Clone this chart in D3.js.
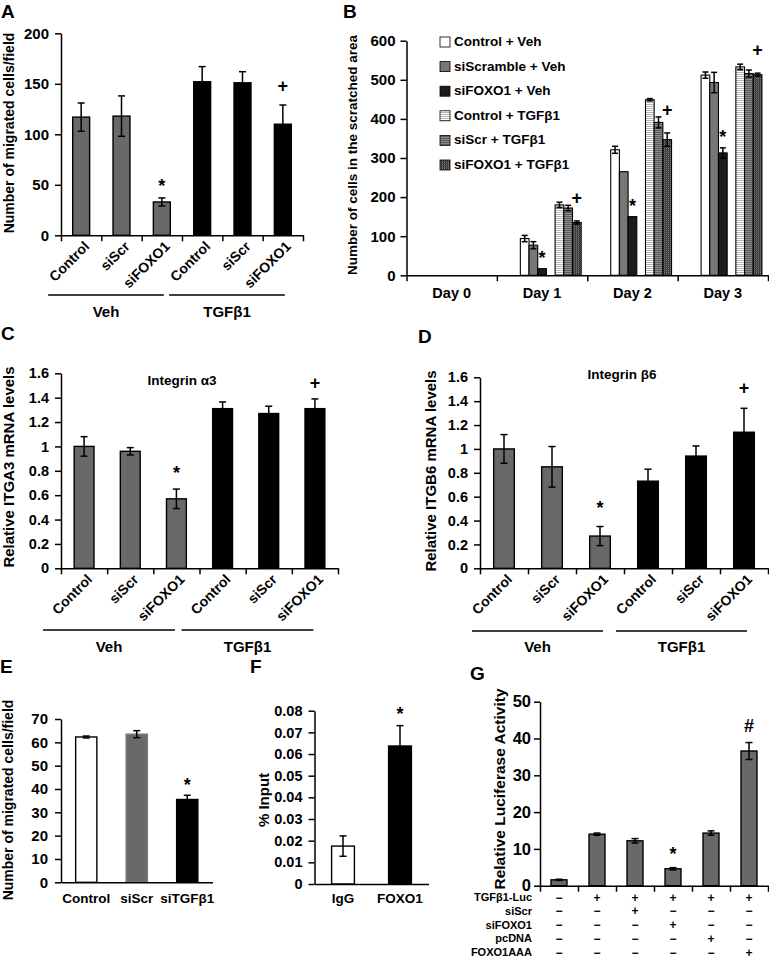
<!DOCTYPE html>
<html><head><meta charset="utf-8">
<script src="https://cdn.jsdelivr.net/npm/d3@7"></script>
<style>
body{margin:0;background:#fff;}
svg text{font-family:"Liberation Sans",Arial,Helvetica,sans-serif;font-weight:bold;fill:#000;}
</style></head><body>
<script>
// ---------------- DATA ----------------
// Panel A
const catsA = ["Control","siScr","siFOXO1","Control","siScr","siFOXO1"];
const groupsA = ["Veh","TGFβ1"];
const valuesA = [117,118,33,152,151,110];
const errorsA = [14,20,4,15,11,19];
const ticksA = [0,50,100,150,200];
const markersA = [{i:2,sym:"*"},{i:5,sym:"+"}];
// Panel B
const daysB = ["Day 0","Day 1","Day 2","Day 3"];
const seriesB = ["Control + Veh","siScramble + Veh","siFOXO1 + Veh","Control + TGFβ1","siScr + TGFβ1","siFOXO1 + TGFβ1"];
const ctrlVehB   = [0,94,321,512];
const siScrVehB  = [0,77,265,493];
const siFoxVehB  = [0,17,150,313];
const ctrlTgfB   = [0,180,449,533];
const siScrTgfB  = [0,172,391,516];
const siFoxTgfB  = [0,135,347,513];
const ctrlVehErrB  = [0,8,9,8];
const siScrVehErrB = [0,9,0,26];
const siFoxVehErrB = [0,0,0,13];
const ctrlTgfErrB  = [0,7,3,7];
const siScrTgfErrB = [0,7,14,9];
const siFoxTgfErrB = [0,4,17,4];
const ticksB = [0,100,200,300,400,500,600];
// Panel C
const catsC = ["Control","siScr","siFOXO1","Control","siScr","siFOXO1"];
const valuesC = [1.0,0.96,0.57,1.31,1.27,1.31];
const errorsC = [0.08,0.03,0.08,0.055,0.06,0.08];
const ticksC = [0,0.2,0.4,0.6,0.8,1,1.2,1.4,1.6];
// Panel D
const valuesD = [1.0,0.85,0.27,0.73,0.94,1.14];
const errorsD = [0.12,0.17,0.08,0.10,0.085,0.20];
// Panel E
const catsE = ["Control","siScr","siTGFβ1"];
const valuesE = [62.3,63.5,35.5];
const errorsE = [0.4,1.5,1.8];
const ticksE = [0,10,20,30,40,50,60,70];
// Panel F
const catsF = ["IgG","FOXO1"];
const valuesF = [0.0175,0.0637];
const errorsF = [0.0047,0.0094];
const ticksF = [0,0.01,0.02,0.03,0.04,0.05,0.06,0.07,0.08];
// Panel G
const valuesG = [1.6,14,12.2,4.6,14.3,36.6];
const errorsG = [0.15,0.3,0.6,0.3,0.6,2.3];
const ticksG = [0,10,20,30,40,50];
const rowsG = ["TGFβ1-Luc","siScr","siFOXO1","pcDNA","FOXO1AAA"];
const tgfLucG = ["−","+","+","+","+","+"];
const siScrG  = ["−","−","+","−","−","−"];
const siFoxG  = ["−","−","−","+","−","−"];
const pcDnaG  = ["−","−","−","−","+","−"];
const foxAaaG = ["−","−","−","−","−","+"];

// ---------------- DRAWING ----------------
const FF = '"Liberation Sans",Arial,Helvetica,sans-serif';
const svg = d3.select("body").append("svg").attr("width",769).attr("height",964);
const GREY = "#696969", BLACK = "#000";
const symAdj = {"*":0.58,"+":0.35,"#":0.36};

function styleAxis(g, fs){
  g.attr("font-family",FF).attr("font-size",fs).attr("font-weight","bold").attr("color","#000");
  g.selectAll("path,line").attr("stroke","#000").attr("stroke-width",1.5);
  g.selectAll("text").attr("fill","#000");
}
function label(txt,x,y,fs){ svg.append("text").attr("x",x).attr("y",y).attr("font-size",fs).text(txt); }
function ytitle(txt,x,yc,fs){
  svg.append("text").attr("transform",`translate(${x},${yc}) rotate(-90)`).attr("text-anchor","middle")
    .attr("dominant-baseline","central").attr("font-size",fs).text(txt);
}
function drawErr(g, data, cx, y, cap){
  const d2 = data.filter(d=>d.e>0);
  const ln = (sel,cls)=>g.selectAll("line."+cls).data(d2).join("line").attr("class",cls).attr("stroke","#000").attr("stroke-width",1.5);
  ln(g,"ev").attr("x1",cx).attr("x2",cx).attr("y1",d=>y(d.v-d.e)).attr("y2",d=>y(d.v+d.e));
  ln(g,"et").attr("x1",d=>cx(d)-cap/2).attr("x2",d=>cx(d)+cap/2).attr("y1",d=>y(d.v+d.e)).attr("y2",d=>y(d.v+d.e));
  ln(g,"eb").attr("x1",d=>cx(d)-cap/2).attr("x2",d=>cx(d)+cap/2).attr("y1",d=>y(d.v-d.e)).attr("y2",d=>y(d.v-d.e));
}
function marker(g, list, cx, yTop, fs){
  g.selectAll("text.mk").data(list).join("text").attr("class","mk")
    .attr("x",d=>cx(d)).attr("y",d=>yTop(d) + symAdj[d.sym]*fs)
    .attr("text-anchor","middle").attr("font-size",fs).text(d=>d.sym);
}

function panel(o){
  const n = o.values.length;
  const x = d3.scaleBand().domain(d3.range(n)).range([o.x0,o.x1]).paddingInner(o.pad).paddingOuter(o.pad/2);
  const y = d3.scaleLinear().domain([0,o.ymax]).range([o.yb,o.yt]);
  const cxi = i => x(i)+x.bandwidth()/2;
  const g = svg.append("g");
  const data = o.values.map((v,i)=>({v,e:o.errors[i],i}));
  g.selectAll("rect.bar").data(data).join("rect").attr("class","bar")
    .attr("x",d=>x(d.i)).attr("width",x.bandwidth())
    .attr("y",d=>y(d.v)).attr("height",d=>y(0)-y(d.v))
    .attr("fill",d=>o.fills[d.i]).attr("stroke",d=>o.strokes?o.strokes[d.i]:"#000").attr("stroke-width",1.4);
  drawErr(g, data, d=>cxi(d.i), y, o.cap||7);
  const ya = g.append("g").attr("transform",`translate(${o.x0},0)`)
    .call(d3.axisLeft(y).tickValues(o.ticks).tickFormat(o.fmt||(d=>d)).tickSize(6).tickSizeOuter(0).tickPadding(o.tp||6));
  styleAxis(ya,o.fs);
  const xl = d3.scaleLinear().domain([0,n]).range([o.x0,o.x1]);
  const xa = g.append("g").attr("transform",`translate(0,${o.yb})`)
    .call(d3.axisBottom(xl).tickValues(o.xticks?d3.range(n+1):[]).tickFormat("").tickSize(6).tickSizeOuter(0));
  styleAxis(xa,o.fs);
  if(o.markers){
    marker(g, o.markers, d=>cxi(d.i), d=>y(o.values[d.i]+o.errors[d.i]) - o.moff[d.sym], 18);
  }
  if(o.rot){
    g.selectAll("text.xl").data(o.cats).join("text").attr("class","xl")
      .attr("transform",(d,i)=>`translate(${cxi(i)+o.rdx},${o.yb+o.rdy}) rotate(-45)`)
      .attr("text-anchor","end").attr("font-size",o.lfs).text(d=>d);
  } else if(o.cats){
    g.selectAll("text.xl").data(o.cats).join("text").attr("class","xl")
      .attr("x",(d,i)=>cxi(i)).attr("y",o.yb+o.lpad).attr("text-anchor","middle").attr("font-size",o.lfs).text(d=>d);
  }
  if(o.groups){
    o.groups.forEach((name,gi)=>{
      const a = cxi(gi*3)+o.gs, b = cxi(gi*3+2)+o.ge;
      g.append("line").attr("x1",a).attr("x2",b).attr("y1",o.gy).attr("y2",o.gy).attr("stroke","#000").attr("stroke-width",1.5);
      g.append("text").attr("x",(a+b)/2).attr("y",o.gly+0.36*15).attr("text-anchor","middle").attr("font-size",15).text(name);
    });
  }
  if(o.title){
    g.append("text").attr("x",o.title[1]).attr("y",o.title[2]).attr("text-anchor","middle").attr("font-size",13.5).text(o.title[0]);
  }
  return {x,y,cxi};
}
const fmt1 = d => d===0?"0":(d===1?"1":d.toFixed(1));

// ---- Panel A ----
label("A",1,17.5,19);
ytitle("Number of migrated cells/field",9,133,14);
panel({values:valuesA,errors:errorsA,cats:catsA,x0:61,x1:303,yb:235.3,yt:33.3,ymax:200,ticks:ticksA,fs:15,tp:6,
  pad:0.58,fills:[GREY,GREY,GREY,BLACK,BLACK,BLACK],xticks:true,rot:true,rdx:9,rdy:12,lfs:14,
  markers:markersA,moff:{"*":16,"+":19},groups:groupsA,gs:-33,ge:2,gy:295,gly:312});

// ---- Panel B ----
label("B",343,17.5,19);
ytitle("Number of cells in the scratched area",352,155,13.5);
(function(){
  const defs = svg.append("defs");
  function pat(id,bg,ln,ln2){
    const p = defs.append("pattern").attr("id",id).attr("patternUnits","userSpaceOnUse").attr("width",2).attr("height",2);
    p.append("rect").attr("width",2).attr("height",2).attr("fill",bg);
    p.append("rect").attr("width",2).attr("height",1).attr("fill",ln);
    if(ln2) p.append("rect").attr("width",1).attr("height",1).attr("fill",ln2);
  }
  pat("pCtrlTgf","#ffffff","#b4b4b4");
  pat("pScrTgf","#8c8c8c","#5c5c5c");
  pat("pFoxTgf","#4a4a4a","#2a2a2a","#7a7a7a");
  const fills = ["#ffffff","#777777","#1c1c1c","url(#pCtrlTgf)","url(#pScrTgf)","url(#pFoxTgf)"];
  const vals = [ctrlVehB,siScrVehB,siFoxVehB,ctrlTgfB,siScrTgfB,siFoxTgfB];
  const errs = [ctrlVehErrB,siScrVehErrB,siFoxVehErrB,ctrlTgfErrB,siScrTgfErrB,siFoxTgfErrB];
  const xB = d3.scaleBand().domain(daysB).range([406.5,768]);
  const slot = d3.scaleBand().domain(["a","b","0","1","2","c","3","4","5"]).range([0,xB.bandwidth()]).paddingInner(0).paddingOuter(0.7);
  const yB = d3.scaleLinear().domain([0,600]).range([275.3,40.7]);
  const data = [];
  seriesB.forEach((s,si)=>daysB.forEach((day,di)=>data.push({si,day,v:vals[si][di],e:errs[si][di]})));
  const g = svg.append("g");
  const bx = d => xB(d.day)+slot(String(d.si));
  g.selectAll("rect").data(data.filter(d=>d.v>0)).join("rect")
    .attr("x",bx).attr("width",slot.bandwidth()).attr("y",d=>yB(d.v)).attr("height",d=>yB(0)-yB(d.v))
    .attr("fill",d=>fills[d.si]).attr("stroke","#000").attr("stroke-width",1.1);
  drawErr(g, data, d=>bx(d)+slot.bandwidth()/2, yB, 6);
  const ya = g.append("g").attr("transform","translate(406.5,0)")
    .call(d3.axisLeft(yB).tickValues(ticksB).tickSize(6).tickSizeOuter(0).tickPadding(5));
  styleAxis(ya,15);
  const xl = d3.scaleLinear().domain([0,4]).range([406.5,768]);
  const xa = g.append("g").attr("transform","translate(0,275.3)")
    .call(d3.axisBottom(xl).tickValues(d3.range(5)).tickFormat("").tickSize(6).tickSizeOuter(0));
  styleAxis(xa,15);
  const xa2 = g.append("g").attr("transform","translate(0,275.3)")
    .call(d3.axisBottom(xB).tickSize(0).tickPadding(12));
  styleAxis(xa2,14.5); xa2.select(".domain").remove();
  // markers
  const mk = [];
  [1,2,3].forEach(di=>{ mk.push({si:2,day:daysB[di],sym:"*"}); mk.push({si:5,day:daysB[di],sym:"+"}); });
  marker(g, mk, d=>bx(d)+slot.bandwidth()/2,
    d=>{const di=daysB.indexOf(d.day); return yB(vals[d.si][di]+errs[d.si][di]) - (d.sym==="*"?15:23);}, 18);
  // legend
  const ly = d3.scalePoint().domain(seriesB).range([41,164]);
  const lg = svg.append("g");
  lg.selectAll("rect").data(seriesB).join("rect").attr("x",440).attr("y",d=>ly(d)-4).attr("width",10).attr("height",10)
    .attr("fill",(d,i)=>fills[i]).attr("stroke","#000").attr("stroke-width",0.8);
  lg.selectAll("text").data(seriesB).join("text").attr("x",454).attr("y",d=>ly(d)+5).attr("font-size",13.5).text(d=>d);
})();

// ---- Panel C ----
label("C",1,340,19);
ytitle("Relative ITGA3 mRNA levels",8,467,15);
panel({values:valuesC,errors:errorsC,cats:catsC,x0:61,x1:338,yb:568.3,yt:373.3,ymax:1.6,ticks:ticksC,fmt:fmt1,fs:14.5,tp:6,
  pad:0.57,fills:[GREY,GREY,GREY,BLACK,BLACK,BLACK],xticks:true,rot:true,rdx:9,rdy:12,lfs:14,
  markers:[{i:2,sym:"*"},{i:5,sym:"+"}],moff:{"*":21,"+":16},groups:groupsA,gs:-41,ge:-1.5,gy:630,gly:647,
  title:["Integrin α3",182,385]});

// ---- Panel D ----
label("D",418,343,19);
ytitle("Relative ITGB6 mRNA levels",430,471,15);
panel({values:valuesD,errors:errorsD,cats:catsC,x0:480,x1:768,yb:568.3,yt:377.3,ymax:1.6,ticks:ticksC,fmt:fmt1,fs:14.5,tp:6,
  pad:0.57,fills:[GREY,GREY,GREY,BLACK,BLACK,BLACK],xticks:true,rot:true,rdx:9,rdy:12,lfs:14,
  markers:[{i:2,sym:"*"},{i:5,sym:"+"}],moff:{"*":23,"+":21},groups:groupsA,gs:-32,ge:3,gy:631,gly:647,
  title:["Integrin β6",622,379]});

// ---- Panel E ----
label("E",0,673,19);
ytitle("Number of migrated cells/field",8,800,14);
panel({values:valuesE,errors:errorsE,cats:catsE,x0:61,x1:212.5,yb:882.3,yt:719,ymax:70,ticks:ticksE,fs:15,tp:7,
  pad:0.58,fills:["#fff",GREY,BLACK],strokes:["#000","#7a7a7a","#000"],xticks:false,rot:false,lpad:21,lfs:13.5,
  markers:[{i:2,sym:"*"}],moff:{"*":15}});

// ---- Panel F ----
label("F",250,673,19);
ytitle("% Input",263,800,15);
panel({values:valuesF,errors:errorsF,cats:catsF,x0:314.5,x1:428.5,yb:884,yt:710.7,ymax:0.08,ticks:ticksF,
  fmt:d=>d===0?"0":d.toFixed(2),fs:14.5,tp:6,
  pad:0.6,fills:["#fff",BLACK],xticks:false,rot:false,lpad:19,lfs:13.5,
  markers:[{i:1,sym:"*"}],moff:{"*":16}});

// ---- Panel G ----
label("G",470,680,19);
ytitle("Relative Luciferase Activity",499,789,15.5);
const pg = panel({values:valuesG,errors:errorsG,x0:540,x1:768,yb:885.7,yt:701.7,ymax:50,ticks:ticksG,fs:16.5,tp:3,
  pad:0.58,fills:d3.range(6).map(()=>GREY),xticks:true,rot:false,
  markers:[{i:3,sym:"*"},{i:5,sym:"#"}],moff:{"*":18,"#":17.5}});
(function(){
  const rows = [tgfLucG,siScrG,siFoxG,pcDnaG,foxAaaG];
  const ry = d3.scalePoint().domain(rowsG).range([897,952]);
  const g = svg.append("g");
  g.selectAll("text.rl").data(rowsG).join("text").attr("class","rl").attr("x",532).attr("y",d=>ry(d)+4)
    .attr("text-anchor","end").attr("font-size",11).text(d=>d);
  rowsG.forEach((r,ri)=>{
    g.selectAll("text.s"+ri).data(rows[ri]).join("text").attr("class","s"+ri)
      .attr("x",(d,i)=>pg.cxi(i)).attr("y",ry(r)+4.5).attr("text-anchor","middle").attr("font-size",12).text(d=>d);
  });
})();
</script></body></html>
